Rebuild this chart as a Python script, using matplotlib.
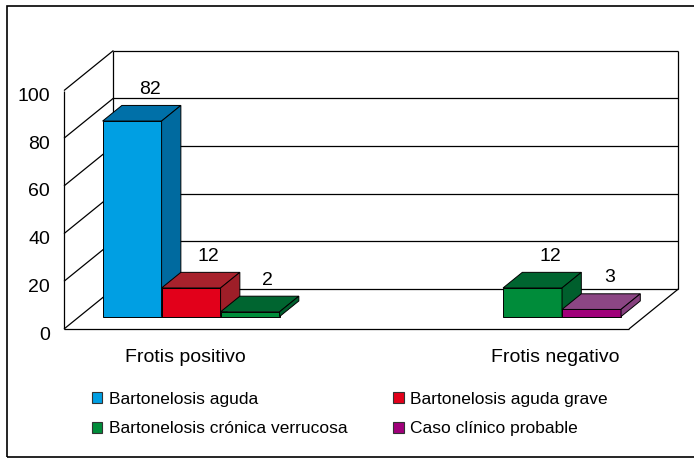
import numpy as np
import matplotlib
matplotlib.use('Agg')
import matplotlib.pyplot as plt
from matplotlib.patches import Polygon, Patch, Rectangle
from matplotlib import rcParams
import matplotlib.transforms as mtransforms

rcParams['font.family'] = ['Liberation Sans', 'DejaVu Sans']

# data
categories = ['Frotis positivo', 'Frotis negativo']
series_names = ['Bartonelosis aguda', 'Bartonelosis aguda grave',
                'Bartonelosis crónica verrucosa', 'Caso clínico probable']
aguda = [82, 0]
aguda_grave = [12, 0]
cronica_verrucosa = [2, 12]
caso_probable = [0, 3]
yticks = [0, 20, 40, 60, 80, 100]

values = [aguda, aguda_grave, cronica_verrucosa, caso_probable]
front_cols = ['#009FE3', '#E2001A', '#008C3A', '#A0007A']
top_cols = ['#0070A8', '#A8222C', '#006530', '#8C4684']
side_cols = ['#006A9F', '#9E1E28', '#005F2D', '#86407E']

# 3d geometry (depth expressed in data units)
DX, DY = 0.175, 16.8
f0, f1 = 0.31, 0.70
bar_w = 0.2088
gap = (1 - 4 * bar_w) / 2

W, H = 694, 458
fig = plt.figure(figsize=(W / 100, H / 100), dpi=100)
left, right, top, bottom = 64, 678.4, 50.5, 329
ax = fig.add_axes([left / W, 1 - bottom / H, (right - left) / W, (bottom - top) / H])
ax.set_xlim(0, len(categories) + DX)
ax.set_ylim(0, 100 + DY)
for s in ax.spines.values():
    s.set_visible(False)
ax.set_xticks([])

kw = dict(color='black', lw=0.9, solid_capstyle='butt', clip_on=False)
# left wall and back wall grid
for v in yticks:
    ax.plot([0, DX], [v, v + DY], **kw)
    ax.plot([DX, len(categories) + DX], [v + DY, v + DY], **kw)
ax.plot([0, 0], [0, 100], **kw)
ax.plot([DX, DX], [DY, 100 + DY], **kw)
ax.plot([len(categories) + DX] * 2, [DY, 100 + DY], **kw)
# floor
ax.plot([0, len(categories)], [0, 0], **kw)
ax.plot([len(categories), len(categories) + DX], [0, DY], **kw)

# bars
for i in range(len(categories)):
    for j, vals in enumerate(values):
        v = vals[i]
        if v == 0:
            continue
        xl = i + gap + j * bar_w
        xr = xl + bar_w
        a0, b0 = f0 * DX, f0 * DY
        a1, b1 = f1 * DX, f1 * DY
        front = [(xl + a0, b0), (xr + a0, b0), (xr + a0, v + b0), (xl + a0, v + b0)]
        topf = [(xl + a0, v + b0), (xl + a1, v + b1), (xr + a1, v + b1), (xr + a0, v + b0)]
        side = [(xr + a0, b0), (xr + a1, b1), (xr + a1, v + b1), (xr + a0, v + b0)]
        for pts, c in [(front, front_cols[j]), (topf, top_cols[j]), (side, side_cols[j])]:
            ax.add_patch(Polygon(pts, closed=True, facecolor=c, edgecolor='black',
                                 lw=0.7, joinstyle='miter', zorder=3))
        ax.text((xl + xr) / 2 + 0.67 * DX, v + 0.67 * DY + 7.2, str(v),
                ha='center', va='center', fontsize=14, zorder=4)

# y tick labels
ax.set_yticks(yticks)
ax.set_yticklabels([str(t) for t in yticks], fontsize=14)
ax.tick_params(axis='y', length=0, pad=10)
off = mtransforms.ScaledTranslation(0, -4 / 100, fig.dpi_scale_trans)
for lab in ax.get_yticklabels():
    lab.set_transform(lab.get_transform() + off)

# category labels
cat_label_x = [185, 555]
for name, x in zip(categories, cat_label_x):
    fig.text(x / W, 1 - 358 / H, name, ha='center', va='center', fontsize=14)

# legend
handles = [Patch(facecolor=c, edgecolor='#333333', lw=0.8) for c in front_cols]
order = [0, 2, 1, 3]
fig.legend([handles[k] for k in order], [series_names[k] for k in order],
           ncol=2, loc='upper left', bbox_to_anchor=(92 / W, 1 - 392 / H),
           frameon=False, fontsize=12.5, handlelength=0.6, handleheight=0.6,
           handletextpad=0.4, labelspacing=0.83, columnspacing=2.6,
           borderpad=0, borderaxespad=0)

# outer frame
fig.patches.append(Rectangle((7 / W, 1 - 456.5 / H), 700 / W, 450.5 / H, transform=fig.transFigure,
                             fill=False, edgecolor='black', lw=1.2))

fig.savefig('out.png', dpi=100)
